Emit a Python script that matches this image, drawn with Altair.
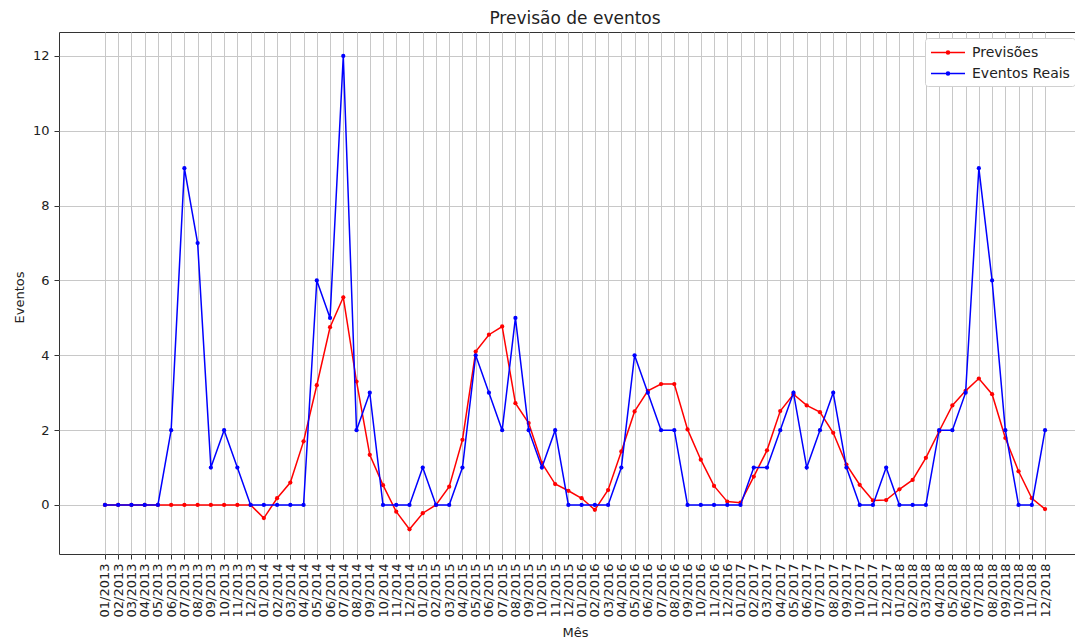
import json
import altair as alt
import pandas as pd

months = [f"{m:02d}/{y}" for y in range(2013, 2019) for m in range(1, 13)]

previsoes = [
    0, 0, 0, 0, 0, 0, 0, 0, 0, 0, 0, 0,
    -0.35, 0.18, 0.6, 1.7, 3.2, 4.75, 5.55, 3.3, 1.34, 0.53, -0.18, -0.65,
    -0.22, 0.0, 0.49, 1.74, 4.1, 4.55, 4.77, 2.72, 2.19, 1.12, 0.56, 0.38,
    0.18, -0.13, 0.4, 1.43, 2.5, 3.05, 3.23, 3.23, 2.02, 1.21, 0.51, 0.09,
    0.06, 0.76, 1.46, 2.51, 2.96, 2.66, 2.48, 1.93, 1.08, 0.54, 0.12, 0.13,
    0.42, 0.67, 1.26, 1.97, 2.66, 3.05, 3.38, 2.96, 1.79, 0.9, 0.18, -0.11,
]

eventos_reais = [
    0, 0, 0, 0, 0, 2, 9, 7, 1, 2, 1, 0,
    0, 0, 0, 0, 6, 5, 12, 2, 3, 0, 0, 0,
    1, 0, 0, 1, 4, 3, 2, 5, 2, 1, 2, 0,
    0, 0, 0, 1, 4, 3, 2, 2, 0, 0, 0, 0,
    0, 1, 1, 2, 3, 1, 2, 3, 1, 0, 0, 1,
    0, 0, 0, 2, 2, 3, 9, 6, 2, 0, 0, 2,
]

series_names = ["Previsões", "Eventos Reais"]
series_colors = ["#ff0000", "#0000ff"]
y_ticks = [0, 2, 4, 6, 8, 10, 12]

n = len(months)
df = pd.DataFrame({
    "idx": list(range(n)) * 2,
    "Mes": months * 2,
    "Eventos": previsoes + eventos_reais,
    "Serie": [series_names[0]] * n + [series_names[1]] * n,
})

label_expr = json.dumps(months) + "[datum.value]"

color = alt.Color(
    "Serie:N",
    scale=alt.Scale(domain=series_names, range=series_colors),
    legend=alt.Legend(
        title=None,
        orient="none",
        legendX=866,
        legendY=6,
        fillColor="white",
        strokeColor="#d0d0d0",
        cornerRadius=3,
        padding=5,
        symbolType="M-1,0H3M0.82,0a0.18,0.18 0 1,0 0.36,0a0.18,0.18 0 1,0 -0.36,0",
        symbolSize=289,
        symbolStrokeWidth=1.5,
        labelFontSize=14,
        labelColor="#222",
        labelOffset=23,
        rowPadding=4,
    ),
)

x = alt.X(
    "idx:Q",
    scale=alt.Scale(domain=[-3.47, n - 1 + 3.47], nice=False, zero=False),
    axis=alt.Axis(
        values=list(range(n)),
        labelExpr=label_expr,
        labelAngle=270,
        labelFontSize=13,
        labelColor="#222",
        labelPadding=4,
        labelOverlap=False,
        labelFlush=False,
        tickSize=5,
        tickColor="#333",
        domain=False,
        grid=True,
        gridColor="#c8c8c8",
        gridWidth=1,
        title="Mês",
        titleFontSize=13,
        titleFontWeight="normal",
        titleColor="#222",
        titleX=516,
        titleY=72,
        titleBaseline="top",
    ),
)

y = alt.Y(
    "Eventos:Q",
    scale=alt.Scale(domain=[-1.31, 12.64], nice=False, zero=False),
    axis=alt.Axis(
        values=y_ticks,
        format="d",
        labelFontSize=13,
        labelColor="#222",
        labelPadding=5,
        tickSize=5,
        tickColor="#333",
        domain=False,
        grid=True,
        gridColor="#c8c8c8",
        gridWidth=1,
        title="Eventos",
        titleFontSize=13,
        titleFontWeight="normal",
        titleColor="#222",
        titleX=-40,
        titleY=265,
        titleAngle=270,
        titleAlign="center",
        titleBaseline="middle",
    ),
)

base = alt.Chart(df).encode(x=x, y=y, color=color, tooltip=["Mes:N", "Serie:N", "Eventos:Q"])

red = base.transform_filter(alt.datum.Serie == series_names[0]).mark_line(
    strokeWidth=1.5,
    point=alt.OverlayMarkDef(size=18, filled=True),
)
blue = base.transform_filter(alt.datum.Serie == series_names[1]).mark_line(
    strokeWidth=1.5,
    point=alt.OverlayMarkDef(size=18, filled=True),
)

chart = (
    alt.layer(red, blue)
    .properties(
        width=1032,
        height=522,
        title=alt.TitleParams(
            "Previsão de eventos",
            fontSize=17,
            fontWeight="normal",
            color="#222",
            anchor="middle",
            offset=4,
        ),
        autosize=alt.AutoSizeParams(type="none"),
        padding={"left": 51, "top": 24, "right": -16, "bottom": 85},
    )
    .configure(font="DejaVu Sans")
    .configure_view(stroke="#333", strokeWidth=1)
)

chart.save("out.html", embed_options={"renderer": "svg", "actions": False})
